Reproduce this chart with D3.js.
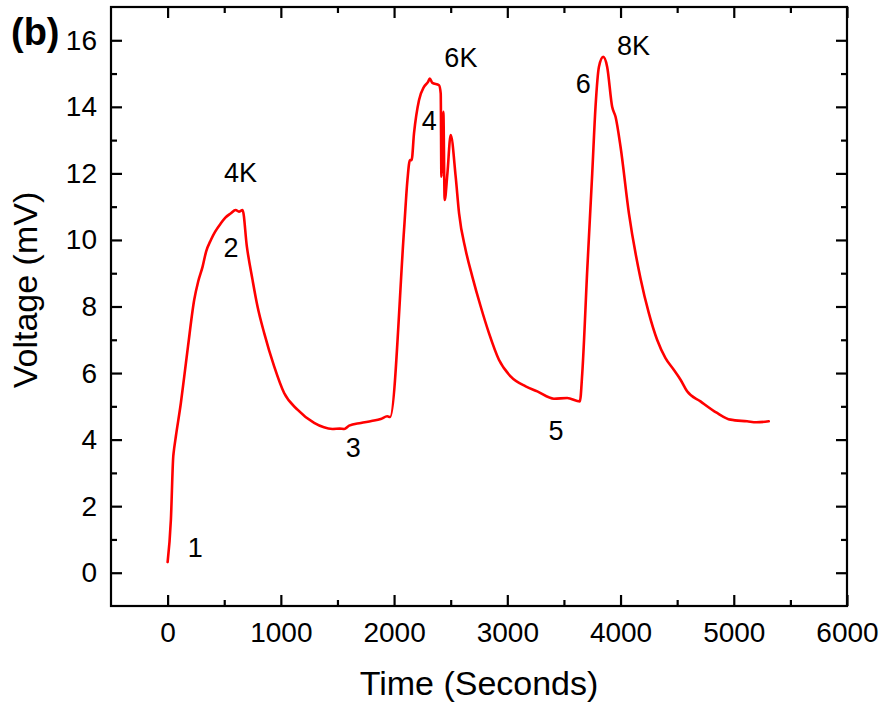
<!DOCTYPE html>
<html>
<head>
<meta charset="utf-8">
<script src="https://cdn.jsdelivr.net/npm/d3@7"></script>
<style>
  html, body { margin: 0; padding: 0; background: #fff; }
  svg { display: block; font-family: "Liberation Sans", Arial, sans-serif; }
</style>
</head>
<body>
<svg id="chart" width="882" height="708"></svg>
<script>
// ---- data ----
const timeSec = [0, 29, 50, 53, 73, 117, 147, 180, 235, 270, 309, 340, 382, 420, 470, 510, 559, 600, 630, 662,
  700, 750, 794, 853, 941, 1029, 1147, 1294, 1456, 1520, 1560, 1603, 1706, 1800, 1882, 1940, 1965,
  2088, 2118, 2140, 2155, 2176, 2220, 2264, 2300, 2315, 2338, 2397, 2412, 2418, 2435, 2447, 2471,
  2500, 2544, 2574, 2632, 2691, 2765, 2838, 2926, 3029, 3162, 3265, 3412, 3529, 3641, 3662,
  3706, 3750, 3779, 3809, 3847, 3882, 3926, 3956, 4000, 4074, 4176, 4250, 4323, 4397, 4470,
  4530, 4588, 4706, 4853, 4971, 5118, 5200, 5309];
const voltage = [0.32, 1.6, 3.5, 3.6, 4.1, 5.1, 5.9, 6.8, 8.2, 8.75, 9.2, 9.65, 10.0, 10.25, 10.5, 10.67, 10.8, 10.9, 10.85, 10.9,
  9.8, 8.8, 8.0, 7.2, 6.2, 5.4, 4.9, 4.5, 4.32, 4.33, 4.32, 4.42, 4.5, 4.56, 4.62, 4.7, 4.68,
  10.3, 11.8, 12.4, 12.4, 13.2, 14.2, 14.6, 14.75, 14.85, 14.72, 14.65, 14.4, 11.9, 13.85, 11.2, 12.0,
  13.15, 11.9, 10.8, 9.7, 8.9, 8.0, 7.2, 6.4, 5.9, 5.6, 5.45, 5.23, 5.25, 5.15, 6.0,
  9.1, 12.0, 14.0, 15.2, 15.5, 15.2, 14.0, 13.7, 12.8, 10.8, 8.85, 7.8, 7.0, 6.45, 6.1,
  5.8, 5.45, 5.15, 4.8, 4.6, 4.55, 4.52, 4.55];

const xMajorTicks = [0, 1000, 2000, 3000, 4000, 5000, 6000];
const xMinorTicks = [500, 1500, 2500, 3500, 4500, 5500];
const yMajorTicks = [0, 2, 4, 6, 8, 10, 12, 14, 16];
const yMinorTicks = [1, 3, 5, 7, 9, 11, 13, 15];

const annoText = ["1", "2", "3", "4", "5", "6", "4K", "6K", "8K"];
const annoTime = [245, 560, 1640, 2310, 3430, 3670, 644, 2590, 4115];
const annoVolt = [0.75, 9.78, 3.75, 13.6, 4.27, 14.7, 12.04, 15.48, 15.84];

const xTitle = "Time (Seconds)";
const yTitle = "Voltage (mV)";
const panelLabel = "(b)";

// ---- layout ----
const svg = d3.select("#chart");
const L = 111, R = 847, T = 7, B = 606;
const x = d3.scaleLinear().domain([-500, 6000]).range([L, R]);
const y = d3.scaleLinear().domain([-1, 17]).range([B, T]);

const tickFont = 28;

// bottom axis
const gB = svg.append("g").attr("transform", `translate(0,${B})`)
  .call(d3.axisBottom(x).tickValues(xMajorTicks).tickSize(-11).tickPadding(16).tickFormat(d3.format("d")));
svg.append("g").attr("transform", `translate(0,${B})`)
  .call(d3.axisBottom(x).tickValues(xMinorTicks).tickSize(-6).tickFormat(""));
// top axis
svg.append("g").attr("transform", `translate(0,${T})`)
  .call(d3.axisTop(x).tickValues(xMajorTicks).tickSize(-11).tickFormat(""));
svg.append("g").attr("transform", `translate(0,${T})`)
  .call(d3.axisTop(x).tickValues(xMinorTicks).tickSize(-6).tickFormat(""));
// left axis
const gL = svg.append("g").attr("transform", `translate(${L},0)`)
  .call(d3.axisLeft(y).tickValues(yMajorTicks).tickSize(-11).tickPadding(14).tickFormat(d3.format("d")));
svg.append("g").attr("transform", `translate(${L},0)`)
  .call(d3.axisLeft(y).tickValues(yMinorTicks).tickSize(-6).tickFormat(""));
// right axis
svg.append("g").attr("transform", `translate(${R},0)`)
  .call(d3.axisRight(y).tickValues(yMajorTicks).tickSize(-11).tickFormat(""));
svg.append("g").attr("transform", `translate(${R},0)`)
  .call(d3.axisRight(y).tickValues(yMinorTicks).tickSize(-6).tickFormat(""));

svg.selectAll(".domain").remove();
svg.selectAll(".tick line").attr("stroke", "#000").attr("stroke-width", 2.2);
svg.selectAll(".tick text").attr("fill", "#000").attr("font-size", tickFont)
  .attr("font-family", "'Liberation Sans', Arial, sans-serif");
gB.selectAll(".tick text").attr("dy", "0.71em");

// frame
svg.append("rect").attr("x", L).attr("y", T).attr("width", R - L).attr("height", B - T)
  .attr("fill", "none").attr("stroke", "#000").attr("stroke-width", 2.2);

// data line
const data = timeSec.map((t, i) => ({ t, v: voltage[i] }));
svg.append("path").datum(data)
  .attr("fill", "none").attr("stroke", "#ff0000").attr("stroke-width", 2.6)
  .attr("stroke-linejoin", "round").attr("stroke-linecap", "round")
  .attr("d", d3.line().curve(d3.curveMonotoneX).x(d => x(d.t)).y(d => y(d.v)));

// annotations
svg.append("g").selectAll("text").data(annoText).join("text")
  .attr("x", (d, i) => x(annoTime[i]))
  .attr("y", (d, i) => y(annoVolt[i]))
  .attr("dy", "0.35em")
  .attr("text-anchor", "middle")
  .attr("font-size", 27)
  .attr("fill", "#000")
  .text(d => d);

// axis titles
svg.append("text").attr("x", (L + R) / 2).attr("y", 695)
  .attr("text-anchor", "middle").attr("font-size", 34).attr("fill", "#000").text(xTitle);
svg.append("text").attr("transform", `translate(37,290) rotate(-90)`)
  .attr("text-anchor", "middle").attr("font-size", 34).attr("fill", "#000").text(yTitle);

// panel label
svg.append("text").attr("x", 11).attr("y", 45)
  .attr("font-size", 38).attr("font-weight", "bold").attr("fill", "#000").text(panelLabel);
</script>
</body>
</html>
